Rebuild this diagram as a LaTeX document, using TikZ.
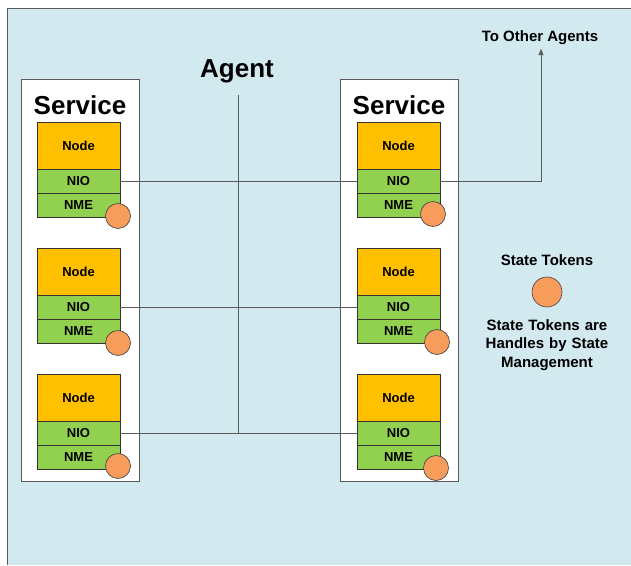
\documentclass[tikz,border=0pt]{standalone}
\usepackage{fontspec}
\setmainfont{Liberation Sans}
\usetikzlibrary{arrows.meta}
\definecolor{bgblue}{HTML}{D2E9EF}
\definecolor{nodeor}{HTML}{FFC000}
\definecolor{niogreen}{HTML}{92D050}
\definecolor{tokor}{HTML}{F79C5B}
\definecolor{lin}{HTML}{5A5A5A}
\tikzset{
  svc/.style={draw=lin, fill=white, line width=0.8pt},
  nodebox/.style={draw=black!80, fill=nodeor, line width=0.6pt, minimum width=83pt, minimum height=47pt, inner sep=0pt, outer sep=0pt, font=\bfseries\fontsize{13}{15}\selectfont},
  gbox/.style={draw=black!80, fill=niogreen, line width=0.6pt, minimum width=83pt, minimum height=24pt, inner sep=0pt, outer sep=0pt, font=\bfseries\fontsize{13}{15}\selectfont},
  token/.style={circle, draw=black!75, fill=tokor, line width=0.6pt, minimum size=25pt, inner sep=0pt},
  conn/.style={draw=lin, line width=0.7pt},
  title/.style={font=\bfseries\fontsize{26}{29}\selectfont},
  legend/.style={font=\bfseries\fontsize{15}{18.5}\selectfont, align=center}
}
\begin{document}
\begin{tikzpicture}[x=1pt,y=-1pt]
\useasboundingbox (0,0) rectangle (631,565);
\fill[white] (0,0) rectangle (631,565);
\fill[bgblue] (7,8) rectangle (631,565);
\draw[lin, line width=1pt] (7,565) -- (7,8) -- (631,8);
% service boxes
\draw[svc] (21,79) rectangle (139,481);
\draw[svc] (340,79) rectangle (458,481);
\node[title] (s1) at (80,105) {Service};
\node[title] (s2) at (399,105) {Service};
\node[font=\bfseries\fontsize{26}{29}\selectfont] (agent) at (237,71) {Agent};
% columns
\foreach \i/\y in {1/122,2/248,3/374}{
  \node[nodebox, anchor=north west] (ln\i) at (37,\y) {Node};
  \node[gbox, anchor=north] (lio\i) at (ln\i.south) {NIO};
  \node[gbox, anchor=north] (lme\i) at (lio\i.south) {NME};
  \node[nodebox, anchor=north west] (rn\i) at (357,\y) {Node};
  \node[gbox, anchor=north] (rio\i) at (rn\i.south) {NIO};
  \node[gbox, anchor=north] (rme\i) at (rio\i.south) {NME};
}
\node[token] (lt1) at (118,216) {};
\node[token] (lt2) at (118,343) {};
\node[token] (lt3) at (118,466) {};
\node[token] (rt1) at (433,214) {};
\node[token] (rt2) at (437,342) {};
\node[token] (rt3) at (436,468) {};
% connectors
\draw[conn] (lio1.east) -- (rio1.west);
\draw[conn] (lio2.east) -- (rio2.west);
\draw[conn] (lio3.east) -- (rio3.west);
\coordinate (atop) at (238,95);
\coordinate (abot) at (238,433);
\draw[conn] (atop) -- (abot);
\node[font=\bfseries\fontsize{15}{18}\selectfont] (other) at (540,38) {To Other Agents};
\coordinate (tip) at (541,49);
\draw[conn, -{Triangle[length=6pt,width=5pt]}] (rio1.east) -| (tip);
% legend
\node[legend] (lg1) at (547,260) {State Tokens};
\node[token, minimum size=30pt] (lgt) at (547,292) {};
\node[legend, text width=140pt] (lg2) at (547,345) {State Tokens are\\Handles by State\\Management};
\end{tikzpicture}
\end{document}
